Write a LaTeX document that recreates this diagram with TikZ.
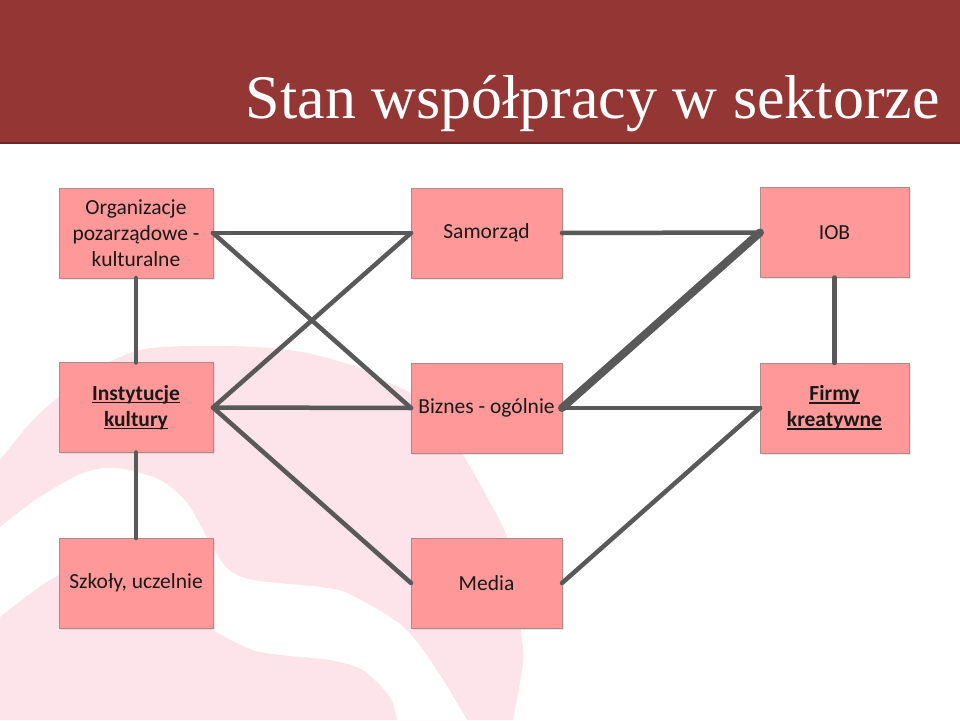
\documentclass[tikz,border=0pt]{standalone}
\usepackage{fontspec}
\setmainfont{Carlito}
\newfontfamily\titlefont{Liberation Serif}
\usetikzlibrary{shadows}
\newsavebox\myulbox
\newcommand{\myul}[1]{\sbox\myulbox{#1}\rlap{\rule[-2.8pt]{\wd\myulbox}{1.4pt}}\usebox\myulbox}
\definecolor{barred}{HTML}{943634}
\definecolor{bardark}{HTML}{6E2624}
\definecolor{swirl}{HTML}{FCE4EA}
\definecolor{linegray}{HTML}{595959}
\definecolor{boxmain}{HTML}{FF9999}
\definecolor{boxlow}{HTML}{F7828A}
\definecolor{boxedge}{HTML}{B08888}
\pgfdeclareverticalshading{boxshade}{100bp}{color(0bp)=(boxlow); color(14bp)=(boxmain); color(100bp)=(boxmain)}
\tikzset{
  box/.style={draw=boxedge, line width=0.75pt, shade, shading=boxshade,
    drop shadow={opacity=0.18, shadow xshift=1.5pt, shadow yshift=-1.5pt},
    inner sep=2pt, outer sep=0pt, minimum height=90pt, align=center,
    font=\fontsize{21.5}{26}\selectfont, text=black!90},
  link/.style={draw=linegray, line width=4.5pt, line cap=round},
  thicklink/.style={link, line width=8pt}
}
\begin{document}
\begin{tikzpicture}[x=1pt,y=-1pt]
\useasboundingbox (0,0) rectangle (960,720);
\fill[white] (0,0) rectangle (960,720);
% background swirl
\fill[swirl] plot[smooth] coordinates {(0,460) (33,420) (67,390) (100,367) (140,350) (190,346) (257,347) (307,353) (357,367) (390,383) (417,397) (445,425) (465,458) (487,497) (507,537) (517,585) (521,630) (523,663) (513,720)} -- (0,720) -- cycle;
\fill[white] plot[smooth] coordinates {(0,527) (40,497) (83,473) (117,468) (160,480) (187,503) (207,537) (227,568) (253,580) (320,587) (347,593) (390,617) (413,637) (440,675) (467,720)}
  -- plot[smooth] coordinates {(397,720) (390,697) (363,670) (330,660) (290,656) (253,650) (213,630) (170,600) (110,572) (59,575) (0,617)} -- cycle;
% title bar
\fill[barred] (0,0) rectangle (960,143);
\draw[bardark, line width=2pt] (0,143) -- (960,143);
\node[anchor=base east, inner sep=0pt, text=white, font=\titlefont\fontsize{62}{70}\selectfont] (title) at (940,118) {Stan współpracy w sektorze};
% boxes
\node[box, minimum width=154pt] (org) at (136,233) {Organizacje\\pozarządowe -\\kulturalne};
\node[box, minimum width=151pt] (sam) at (486.5,233) {Samorząd};
\node[box, minimum width=149pt] (iob) at (834.5,232.5) {IOB};
\node[box, minimum width=154pt] (inst) at (136,407.5) {\textbf{\myul{Instytucje}}\\\textbf{\myul{kultury}}};
\node[box, minimum width=151pt] (biz) at (486.5,408) {Biznes - ogólnie};
\node[box, minimum width=149pt] (firm) at (834.5,408) {\textbf{\myul{Firmy}}\\\textbf{\myul{kreatywne}}};
\node[box, minimum width=154pt] (szk) at (136,583) {Szkoły, uczelnie};
\node[box, minimum width=151pt] (med) at (486.5,583) {Media};
% connectors
\draw[link] (org.east) -- (sam.west);
\draw[link] (org.east) -- (biz.west);
\draw[link] (inst.east) -- (sam.west);
\draw[link] (inst.east) -- (biz.west);
\draw[link] (inst.east) -- (med.west);
\draw[link] (org.south) -- (inst.north);
\draw[link] (inst.south) -- (szk.north);
\draw[link] (sam.east) -- (iob.west);
\draw[thicklink] (biz.east) -- (iob.west);
\draw[link] (biz.east) -- (firm.west);
\draw[link] (med.east) -- (firm.west);
\draw[link] (iob.south) -- (firm.north);
\end{tikzpicture}
\end{document}
